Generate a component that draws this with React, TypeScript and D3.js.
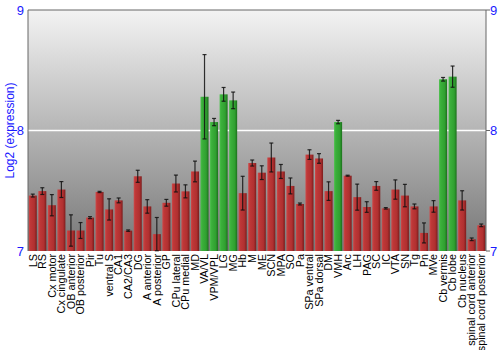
import React from "react";
import * as d3 from "d3";

const categories = [
  "LS", "RS", "Cx motor", "Cx cingulate", "OB anterior", "OB posterior", "Pir", "Tu",
  "ventral S", "CA1", "CA2/CA3", "DG", "A anterior", "A posterior", "GP", "CPu lateral",
  "CPu medial", "MD", "VA/VL", "VPM/VPL", "LG", "MG", "Hb", "M", "ME", "SCN", "MPA", "SO",
  "Pa", "SPa ventral", "SPa dorsal", "DM", "VMH", "Arc", "LH", "PAG", "SC", "IC", "VTA",
  "SN", "Tg", "Pn", "MVe", "Cb vermis", "Cb lobe", "Cb nucleus", "spinal cord anterior",
  "spinal cord posterior",
];

const values = [
  7.46, 7.497, 7.38, 7.51, 7.17, 7.17, 7.277, 7.49,
  7.345, 7.42, 7.169, 7.62, 7.37, 7.14, 7.40, 7.56,
  7.495, 7.66, 8.28, 8.07, 8.30, 8.25, 7.48, 7.73, 7.65, 7.776, 7.66, 7.54,
  7.39, 7.80, 7.768, 7.497, 8.07, 7.625, 7.447, 7.365, 7.54, 7.354, 7.51,
  7.46, 7.37, 7.15, 7.37, 8.425, 8.447, 7.42, 7.097,
  7.213,
];

const errors = [
  0.012, 0.028, 0.088, 0.066, 0.13, 0.066, 0.008, 0.005,
  0.088, 0.02, 0.006, 0.05, 0.056, 0.138, 0.028, 0.07,
  0.054, 0.086, 0.35, 0.03, 0.057, 0.069, 0.14, 0.025, 0.057, 0.12, 0.058, 0.066,
  0.008, 0.04, 0.04, 0.077, 0.014, 0.004, 0.108, 0.044, 0.036, 0.006, 0.08,
  0.093, 0.02, 0.083, 0.048, 0.015, 0.088, 0.08, 0.011,
  0.011,
];

const highlighted = ["VA/VL", "VPM/VPL", "LG", "MG", "VMH", "Cb vermis", "Cb lobe"];

const yTicks = [7, 8, 9];
const yLabel = "Log2 (expression)";

const W = 500;
const H = 350;
const margin = { left: 28, right: 14, top: 10, bottom: 99 };

export default function App() {
  const x = d3
    .scaleBand<string>()
    .domain(categories)
    .range([margin.left, W - margin.right])
    .paddingInner(0.16)
    .paddingOuter(0.08);
  const y = d3.scaleLinear().domain([7, 9]).range([H - margin.bottom, margin.top]);
  const x0 = margin.left;
  const x1 = W - margin.right;
  const bw = x.bandwidth();
  const blue = "#1a1aff";
  const font = "'Liberation Sans', Arial, sans-serif";

  return (
    <div style={{ position: "fixed", left: 0, top: 0 }}>
      <svg width={W} height={H} style={{ display: "block", background: "#fff" }}>
        <defs>
          <linearGradient id="bg" x1="0" y1="0" x2="0" y2="1">
            <stop offset="0" stopColor="#f3f3f3" />
            <stop offset="1" stopColor="#777777" />
          </linearGradient>
          <linearGradient id="red" x1="0" y1="0" x2="1" y2="0">
            <stop offset="0" stopColor="#cf4a4a" />
            <stop offset="0.2" stopColor="#bf3838" />
            <stop offset="0.7" stopColor="#b03030" />
            <stop offset="1" stopColor="#7c1c1c" />
          </linearGradient>
          <linearGradient id="green" x1="0" y1="0" x2="1" y2="0">
            <stop offset="0" stopColor="#4cc24c" />
            <stop offset="0.2" stopColor="#3bb03b" />
            <stop offset="0.7" stopColor="#30a030" />
            <stop offset="1" stopColor="#1c701c" />
          </linearGradient>
        </defs>
        <rect x={x0} y={y(9)} width={x1 - x0} height={y(7) - y(9)} fill="url(#bg)" />
        <line x1={x0} x2={x1} y1={y(8)} y2={y(8)} stroke="#ffffff" strokeWidth={1.5} />
        {categories.map((c, i) => {
          const v = values[i];
          const e = errors[i];
          const bx = x(c)!;
          const cx = bx + bw / 2;
          const green = highlighted.includes(c);
          return (
            <g key={c}>
              <rect
                x={bx}
                y={y(v)}
                width={bw}
                height={y(7) - y(v)}
                fill={green ? "url(#green)" : "url(#red)"}
              />
              <line x1={cx} x2={cx} y1={y(v + e)} y2={y(v - e)} stroke="#111" strokeWidth={1.2} strokeOpacity={0.85} />
              <line x1={cx - 2} x2={cx + 2} y1={y(v + e)} y2={y(v + e)} stroke="#111" strokeWidth={1.2} strokeOpacity={0.85} />
              <line x1={cx - 2} x2={cx + 2} y1={y(v - e)} y2={y(v - e)} stroke="#111" strokeWidth={1.2} strokeOpacity={0.85} />
            </g>
          );
        })}
        <line x1={x0} x2={x0} y1={y(9)} y2={y(7)} stroke="#666" strokeWidth={1} />
        <line x1={x1} x2={x1} y1={y(9)} y2={y(7)} stroke="#666" strokeWidth={1} />
        <line x1={x0} x2={x1} y1={y(9)} y2={y(9)} stroke="#666" strokeWidth={1} />
        {yTicks.map((t) => (
          <g key={t}>
            <line x1={x1} x2={x1 + 4} y1={y(t)} y2={y(t)} stroke="#666" />
            <text x={24} y={y(t)} dy="0.36em" textAnchor="end" fill={blue} fontSize={13} fontFamily={font}>
              {t}
            </text>
            <text x={x1 + 4} y={y(t)} dy="0.36em" textAnchor="start" fill={blue} fontSize={13} fontFamily={font}>
              {t}
            </text>
          </g>
        ))}
        <text
          transform={`translate(14,${(y(9) + y(7)) / 2}) rotate(-90)`}
          textAnchor="middle"
          fill={blue}
          fontSize={12}
          fontFamily={font}
        >
          {yLabel}
        </text>
        {categories.map((c) => (
          <text
            key={c}
            transform={`translate(${x(c)! + bw / 2},${y(7) + 3}) rotate(-90)`}
            textAnchor="end"
            dy="0.35em"
            fill="#000"
            fontSize={10.8}
            fontFamily={font}
          >
            {c}
          </text>
        ))}
      </svg>
    </div>
  );
}
